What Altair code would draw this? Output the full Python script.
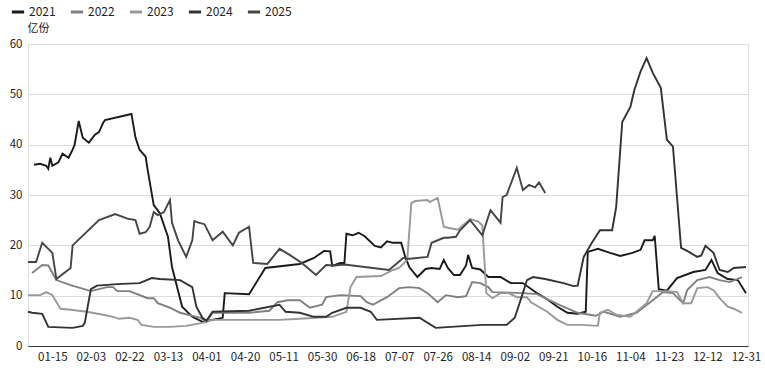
import altair as alt
import pandas as pd

years = ["2021", "2022", "2023", "2024", "2025"]
colors = ["#1a1a1a", "#808080", "#999999", "#333333", "#454545"]

tick_labels = ["01-15", "02-03", "02-22", "03-13", "04-01", "04-20", "05-11", "05-30", "06-18",
               "07-07", "07-26", "08-14", "09-02", "09-21", "10-16", "11-04", "11-23", "12-12", "12-31"]
tick_index = [12, 31, 50, 69, 88, 107, 126, 145, 164, 183, 202, 221, 240, 259, 278, 297, 316, 335, 354]

# (day index, value in 亿份)
s2021 = [(3, 36.0), (6, 36.2), (9, 35.8), (10, 35.2), (11, 37.4), (12, 35.8), (15, 36.5), (17, 38.2),
         (20, 37.4), (22, 39.0), (23, 40.0), (25, 44.7), (27, 41.4), (30, 40.4), (33, 42.0), (35, 42.5),
         (37, 44.3), (38, 44.9), (51, 46.1), (53, 41.4), (55, 39.0), (58, 37.6), (59, 35.0), (62, 28.0),
         (65, 26.4), (69, 21.7), (71, 15.7), (76, 7.8), (81, 5.8), (86, 4.8), (92, 5.3), (96, 5.6),
         (97, 10.5), (109, 10.3), (117, 15.5), (134, 16.3), (141, 17.5), (146, 18.9), (149, 18.8),
         (150, 15.9), (154, 16.5), (156, 16.5), (157, 22.3), (160, 22.0), (163, 22.5), (166, 21.8),
         (171, 19.9), (174, 19.6), (177, 20.8), (180, 20.5), (184, 20.5), (186, 17.7), (188, 15.7),
         (192, 13.7), (196, 15.3), (199, 15.5), (203, 15.3), (205, 17.1), (207, 15.5), (210, 14.1),
         (213, 14.1), (216, 16.0), (217, 18.1), (219, 15.5), (223, 15.2), (227, 13.7), (233, 13.7),
         (238, 12.5), (244, 12.5), (251, 10.5), (256, 9.3), (261, 7.8), (266, 6.6), (271, 6.4),
         (275, 6.8), (276, 18.7), (281, 19.3), (287, 18.5), (292, 17.9), (298, 18.5), (302, 19.1),
         (304, 21.0), (308, 21.0), (309, 21.9), (311, 11.3), (315, 11.0), (320, 13.5), (328, 14.7),
         (334, 15.1), (337, 17.1), (340, 14.5), (345, 13.3), (350, 13.1), (354, 10.5)]

s2022 = [(2, 14.5), (7, 16.1), (10, 16.0), (14, 13.1), (21, 12.1), (31, 10.9), (39, 11.7), (42, 11.7),
         (44, 10.9), (50, 10.9), (59, 9.5), (62, 9.5), (64, 8.5), (70, 7.6), (75, 6.6), (85, 5.6),
         (88, 4.8), (91, 6.6), (96, 6.6), (109, 6.6), (119, 7.0), (123, 8.7), (128, 9.1), (134, 9.1),
         (139, 7.6), (145, 8.2), (147, 9.7), (154, 10.1), (164, 9.9), (167, 8.7), (170, 8.2), (177, 9.7),
         (183, 11.5), (188, 11.7), (193, 11.5), (197, 10.5), (202, 8.7), (206, 10.1), (212, 9.7),
         (216, 9.9), (219, 12.7), (223, 12.5), (227, 11.7), (229, 10.7), (244, 10.5), (251, 10.3),
         (257, 9.1), (264, 7.8), (271, 6.6), (280, 6.0), (284, 6.8), (292, 5.8), (300, 6.6), (308, 9.1),
         (313, 10.7), (318, 10.5), (323, 8.5), (325, 11.1), (330, 13.1), (336, 13.7), (341, 13.1),
         (346, 12.7), (352, 13.7)]

s2023 = [(0, 10.1), (6, 10.1), (9, 10.7), (12, 10.1), (16, 7.4), (21, 7.2), (29, 6.8), (37, 6.2),
         (42, 5.8), (45, 5.4), (50, 5.6), (54, 5.2), (56, 4.2), (62, 3.8), (70, 3.8), (78, 4.0),
         (86, 4.6), (91, 5.2), (109, 5.2), (124, 5.2), (134, 5.4), (142, 5.6), (150, 5.8), (157, 6.8),
         (159, 11.7), (162, 13.7), (174, 13.9), (180, 15.1), (183, 15.5), (187, 17.1), (189, 28.4),
         (191, 28.8), (197, 29.0), (198, 28.6), (202, 29.4), (205, 23.7), (207, 23.5), (212, 23.1),
         (218, 25.2), (222, 24.7), (224, 24.0), (226, 10.5), (229, 9.5), (233, 10.5), (237, 10.5),
         (241, 9.7), (246, 9.7), (248, 8.7), (256, 6.8), (261, 5.2), (266, 4.2), (273, 4.2), (281, 4.0),
         (282, 6.6), (286, 7.2), (290, 6.2), (297, 5.8), (305, 8.5), (308, 10.9), (315, 10.9),
         (320, 10.7), (323, 8.5), (327, 8.5), (330, 11.5), (335, 11.7), (338, 11.1), (341, 9.5),
         (345, 7.8), (348, 7.4), (352, 6.6)]

s2024 = [(0, 6.8), (2, 6.6), (7, 6.4), (10, 3.8), (22, 3.6), (27, 4.0), (28, 4.6), (31, 11.3), (34, 12.0),
         (44, 12.3), (55, 12.5), (61, 13.5), (65, 13.3), (75, 13.1), (81, 11.7), (83, 7.8), (86, 5.6),
         (88, 5.0), (91, 6.8), (109, 7.0), (124, 8.2), (127, 6.8), (134, 6.6), (141, 5.8), (147, 5.8),
         (150, 6.6), (157, 7.6), (164, 7.6), (169, 6.8), (172, 5.2), (193, 5.6), (201, 3.6), (224, 4.2),
         (236, 4.2), (240, 5.6), (244, 10.5), (246, 13.1), (248, 13.5), (249, 13.7), (255, 13.3),
         (264, 12.5), (269, 11.9), (271, 12.0), (274, 17.7), (278, 20.5), (282, 23.0), (288, 23.0),
         (290, 27.6), (293, 44.5), (297, 47.5), (299, 50.9), (302, 54.5), (305, 57.2), (308, 54.3),
         (312, 51.3), (315, 41.0), (318, 39.6), (322, 19.5), (325, 18.9), (330, 17.7), (332, 18.0),
         (334, 19.9), (338, 18.5), (341, 15.1), (345, 14.7), (348, 15.5), (354, 15.7)]

s2025 = [(0, 16.7), (4, 16.7), (7, 20.5), (12, 18.5), (14, 13.3), (21, 15.5), (22, 20.0), (35, 25.0),
         (43, 26.2), (49, 25.3), (53, 25.0), (55, 22.3), (58, 22.6), (60, 23.7), (62, 26.6), (64, 26.0),
         (67, 26.6), (70, 29.0), (71, 24.5), (74, 21.0), (78, 17.7), (81, 21.0), (82, 24.8), (84, 24.5),
         (87, 24.2), (91, 21.0), (96, 22.7), (101, 20.0), (104, 22.5), (109, 23.7), (111, 16.5),
         (118, 16.3), (124, 19.3), (129, 18.1), (135, 16.5), (142, 14.1), (147, 16.1), (151, 16.0),
         (156, 16.2), (178, 15.1), (185, 17.5), (187, 17.3), (197, 17.7), (199, 20.5), (205, 21.5),
         (207, 21.5), (211, 21.7), (213, 23.0), (218, 25.0), (224, 22.0), (228, 27.0), (233, 24.5),
         (234, 29.6), (236, 30.0), (241, 35.4), (244, 31.0), (247, 32.0), (250, 31.5), (252, 32.5),
         (255, 30.4)]

rows = []
for yr, series in zip(years, [s2021, s2022, s2023, s2024, s2025]):
    for i, v in series:
        rows.append({"year": yr, "idx": i, "value": v})
df = pd.DataFrame(rows)

label_expr = "[" + ",".join("'%s'" % t for t in tick_labels) + "][indexof([" + \
    ",".join(str(t) for t in tick_index) + "], datum.value)]"

FONT = "Noto Sans CJK SC"

chart = alt.Chart(df).mark_line(strokeWidth=1.9, interpolate="linear").encode(
    x=alt.X("idx:Q",
            scale=alt.Scale(domain=[0, 355], nice=False, zero=False),
            axis=alt.Axis(values=tick_index, labelExpr=label_expr, title=None, grid=False,
                          ticks=False, domainColor="#333333", domainWidth=1.2,
                          labelFontSize=11.5, labelColor="#222222", labelPadding=5,
                          labelFont=FONT)),
    y=alt.Y("value:Q",
            scale=alt.Scale(domain=[0, 60], nice=False),
            axis=alt.Axis(values=[0, 10, 20, 30, 40, 50, 60], title="亿份", titleAngle=0,
                          titleAlign="left", titleX=-1, titleY=-11, titleFontSize=11,
                          titleFontWeight="normal", titleColor="#222222", titleFont=FONT,
                          domain=False, ticks=False, gridColor="#dcdcdc", gridWidth=1,
                          labelFontSize=11.5, labelColor="#222222", labelPadding=6,
                          labelFont=FONT)),
    color=alt.Color("year:N", scale=alt.Scale(domain=years, range=colors),
                    legend=alt.Legend(orient="none", legendX=-18, legendY=-40, direction="horizontal",
                                      title=None, symbolType="stroke", symbolStrokeWidth=3,
                                      symbolSize=150, labelFontSize=12, labelColor="#222222",
                                      labelFont=FONT, columnPadding=8, labelOffset=3)),
    detail="year:N",
).properties(
    width=720, height=302,
    autosize=alt.AutoSizeParams(type="none"),
    padding={"left": 28, "top": 44, "right": 17, "bottom": 27},
).configure_view(stroke=None).configure(background="white")

chart.save("out.html", embed_options={"renderer": "svg", "actions": False})
